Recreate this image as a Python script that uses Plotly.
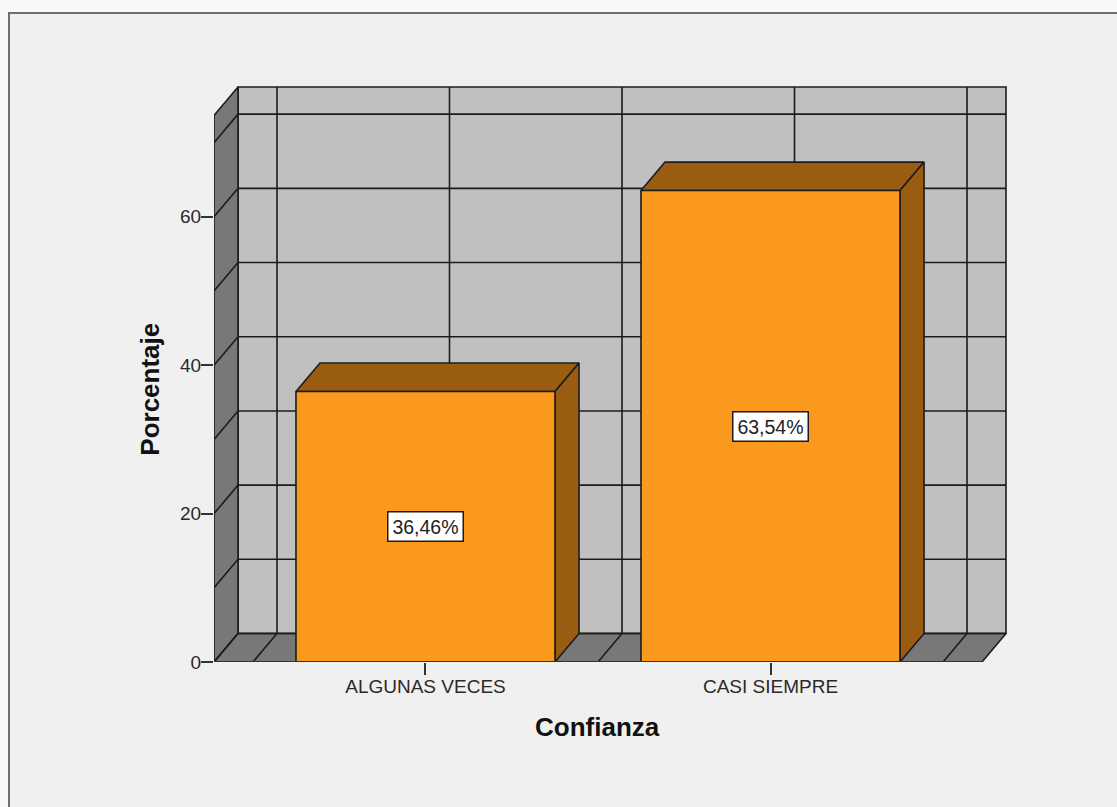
import plotly.graph_objects as go

# --- data ---
categories = ["ALGUNAS VECES", "CASI SIEMPRE"]
values = [36.46, 63.54]
labels = ["36,46%", "63,54%"]
y_ticks = [0, 20, 40, 60]
y_grid = [0, 10, 20, 30, 40, 50, 60, 70]
x_grid = [-0.5, 0, 0.5, 1, 1.5]

# --- chart geometry in axis units ---
DX, DY = 0.0696, 3.84      # depth offset of the back wall
X0, X1 = -0.613, 1.613     # front edges of the floor
TOP = 77.5                 # top of the back wall
BAR_HALF = 0.3754
W, H = 1117, 807
L, R, T, B = 214, 1006, 87, 662
PAD = 10                   # spare pixels right of and above the box, so its edges show

sx = (R - L) / (X1 + DX - X0)
sy = (B - T) / TOP
R2, T2 = R + PAD, T - PAD

INK = "#1c1c1c"
WALL, SIDE = "#c0c0c0", "#787878"
FRONT, SHADE = "#fb981e", "#995c10"


def poly(xs, ys, fill, width=1.6):
    return go.Scatter(x=xs + xs[:1], y=ys + ys[:1], mode="lines", fill="toself",
                      fillcolor=fill, line=dict(color=INK, width=width), cliponaxis=False,
                      hoverinfo="skip", showlegend=False)


def seg(xs, ys, width=1.6, color=INK):
    return go.Scatter(x=xs, y=ys, mode="lines", line=dict(color=color, width=width),
                      cliponaxis=False, hoverinfo="skip", showlegend=False)


fig = go.Figure()

# walls and floor
fig.add_trace(poly([X0 + DX, X1 + DX, X1 + DX, X0 + DX], [DY, DY, TOP, TOP], WALL))
fig.add_trace(poly([X0, X0 + DX, X0 + DX, X0], [0, DY, TOP, TOP - DY], SIDE))
fig.add_trace(poly([X0, X1, X1 + DX, X0 + DX], [0, 0, DY, DY], SIDE))

# grid lines
for v in y_grid:
    fig.add_trace(seg([X0, X0 + DX, X1 + DX], [v, v + DY, v + DY]))
for c in x_grid:
    fig.add_trace(seg([c, c + DX, c + DX], [0, DY, TOP]))

# bars
for i, v in enumerate(values):
    a, b = i - BAR_HALF, i + BAR_HALF
    fig.add_trace(poly([a, a + DX, b + DX, b], [v, v + DY, v + DY, v], SHADE))
    fig.add_trace(poly([b, b + DX, b + DX, b], [0, DY, v + DY, v], SHADE))
    fig.add_trace(poly([a, b, b, a], [0, 0, v, v], FRONT))

# baseline
fig.add_trace(seg([X0, X1], [0, 0], width=2, color="#333333"))

annotations = [
    dict(x=i, y=v / 2, xref="x", yref="y", text=t, showarrow=False, bgcolor="white",
         bordercolor=INK, borderwidth=1.5, borderpad=1, width=72, height=26,
         font=dict(family="Liberation Sans", size=19.5, color="#222222"))
    for i, (v, t) in enumerate(zip(values, labels))
]
annotations.append(dict(x=0.5, xref="x", y=0, yref="y", yshift=-65, text="<b>Confianza</b>",
                        showarrow=False,
                        font=dict(family="Liberation Sans", size=26, color="#111111")))
annotations.append(dict(x=(133 - L) / (R2 - L), xref="paper", y=36.7, yref="y",
                        text="<b>Porcentaje</b>", textangle=-90, showarrow=False,
                        font=dict(family="Liberation Sans", size=26, color="#111111")))

fig.update_layout(
    width=W, height=H, autosize=False,
    margin=dict(l=L, r=W - R2, t=T2, b=H - B, autoexpand=False),
    paper_bgcolor="#f8f8f8", plot_bgcolor="rgba(0,0,0,0)",
    showlegend=False, annotations=annotations,
    font=dict(family="Liberation Sans", size=19, color="#2a2a2a"),
    xaxis=dict(range=[X0, X1 + DX + PAD / sx], tickmode="array", tickvals=[0, 1], ticktext=categories,
               ticks="outside", ticklen=12, tickwidth=1.5, tickcolor="#333333",
               showgrid=False, zeroline=False, showline=False,
               ticklabelstandoff=-5, tickfont=dict(size=19)),
    yaxis=dict(range=[0, TOP + PAD / sy], tickmode="array", tickvals=y_ticks,
               ticks="outside", ticklen=12, tickwidth=1.5, tickcolor="#333333",
               showgrid=False, zeroline=False, showline=False,
               ticklabelstandoff=-4, tickfont=dict(size=19)),
    shapes=[dict(type="rect", xref="paper", yref="paper", layer="below",
                 x0=(9 - L) / (R2 - L), x1=(W + 5 - L) / (R2 - L),
                 y0=(B - H - 5) / (B - T2), y1=(B - 13) / (B - T2),
                 fillcolor="#f0f0f0", line=dict(color="#6e6e6e", width=2))],
)

fig.write_html("out.html", config=dict(displayModeBar=False),
               post_script="document.body.style.margin='0';document.documentElement.style.overflow='hidden';")
